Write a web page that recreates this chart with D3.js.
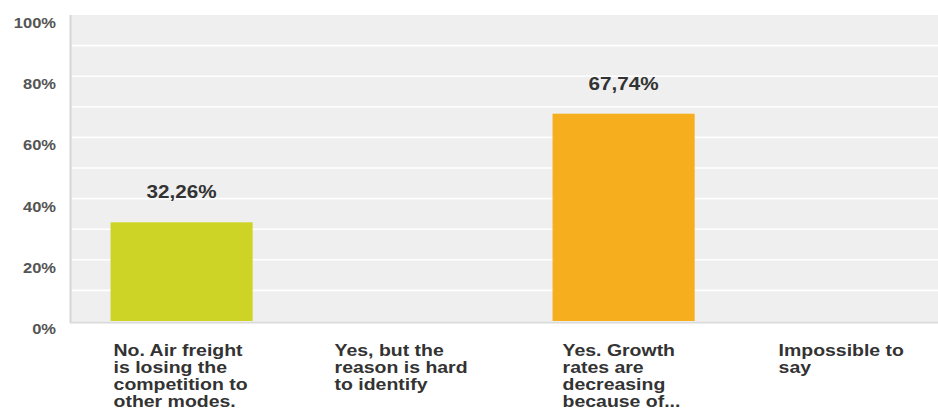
<!DOCTYPE html>
<html>
<head>
<meta charset="utf-8">
<script src="https://cdn.jsdelivr.net/npm/d3@7"></script>
<style>
  body { margin: 0; background: #fff; }
  svg { display: block; font-family: "Liberation Sans", Arial, sans-serif; }
</style>
</head>
<body>
<div id="chart"></div>
<script>
// chart data
const categories = ['cat1', 'cat2', 'cat3', 'cat4'];
const categoryLines = [
    ['No. Air freight', 'is losing the', 'competition to', 'other modes.'],
    ['Yes, but the', 'reason is hard', 'to identify'],
    ['Yes. Growth', 'rates are', 'decreasing', 'because of...'],
    ['Impossible to', 'say']
];
const values = [32.26, 0, 67.74, 0];
const barColors = ['#ced426', '#ced426', '#f6ae1e', '#f6ae1e'];
const gridTicks = [0, 10, 20, 30, 40, 50, 60, 70, 80, 90, 100];
const labelTicks = [0, 20, 40, 60, 80, 100];

const width = 938, height = 412;
const stretch = 1.18; // the reference text is widened horizontally

const svg = d3.select('#chart').append('svg')
    .attr('width', width)
    .attr('height', height);

const y = d3.scaleLinear().domain([0, 100]).range([321, 15]);
const x = d3.scaleBand().domain(categories).range([71, 955]).padding(0);
const barW = x.bandwidth() * 0.643;
const barOff = x.bandwidth() * 0.179;

// plot background
svg.append('rect')
    .attr('x', 71).attr('y', y(100))
    .attr('width', width - 71).attr('height', y(0) - y(100))
    .attr('fill', '#efefef');

// gridlines
svg.append('g')
    .selectAll('line')
    .data(gridTicks.filter(d => d > 0 && d < 100))
    .enter().append('line')
    .attr('x1', 72).attr('x2', width)
    .attr('y1', d => y(d)).attr('y2', d => y(d))
    .attr('stroke', '#fff')
    .attr('stroke-width', 1.6);

// axis lines
svg.append('line')
    .attr('x1', 70.5).attr('x2', 70.5)
    .attr('y1', y(100)).attr('y2', y(0) + 2)
    .attr('stroke', '#d6d6d6').attr('stroke-width', 2);
svg.append('line')
    .attr('x1', 70).attr('x2', width)
    .attr('y1', y(0) + 1.5).attr('y2', y(0) + 1.5)
    .attr('stroke', '#dadada').attr('stroke-width', 2);

// y labels
svg.append('g')
    .selectAll('text')
    .data(labelTicks)
    .enter().append('text')
    .attr('transform', d => `translate(56,${y(d) + 13}) scale(${stretch},1)`)
    .attr('text-anchor', 'end')
    .attr('font-size', '14px')
    .attr('font-weight', 'bold')
    .attr('fill', '#555')
    .text(d => d + '%');

// bars
svg.append('g')
    .selectAll('rect')
    .data(values)
    .enter().append('rect')
    .attr('x', (d, i) => x(categories[i]) + barOff)
    .attr('y', d => y(d))
    .attr('width', barW)
    .attr('height', d => y(0) - y(d))
    .attr('fill', (d, i) => barColors[i]);

// value labels
svg.append('g')
    .selectAll('text')
    .data(values.map((v, i) => ({ v, i })).filter(d => d.v > 0))
    .enter().append('text')
    .attr('transform', d => `translate(${x(categories[d.i]) + x.bandwidth() / 2},${y(d.v) - 24}) scale(${stretch},1)`)
    .attr('text-anchor', 'middle')
    .attr('font-size', '17.5px')
    .attr('font-weight', 'bold')
    .attr('fill', '#333')
    .text(d => d.v.toFixed(2).replace('.', ',') + '%');

// category labels
const catOffsets = [3, 3, 10, 5];
const catG = svg.append('g')
    .selectAll('g')
    .data(categories)
    .enter().append('g')
    .attr('transform', (d, i) => `translate(${x(d) + barOff + catOffsets[i]},356) scale(${stretch},1)`);

catG.selectAll('text')
    .data((d, i) => categoryLines[i])
    .enter().append('text')
    .attr('x', 0)
    .attr('y', (d, j) => j * 17)
    .attr('font-size', '16.5px')
    .attr('font-weight', 'bold')
    .attr('fill', '#333')
    .text(d => d);
</script>
</body>
</html>
